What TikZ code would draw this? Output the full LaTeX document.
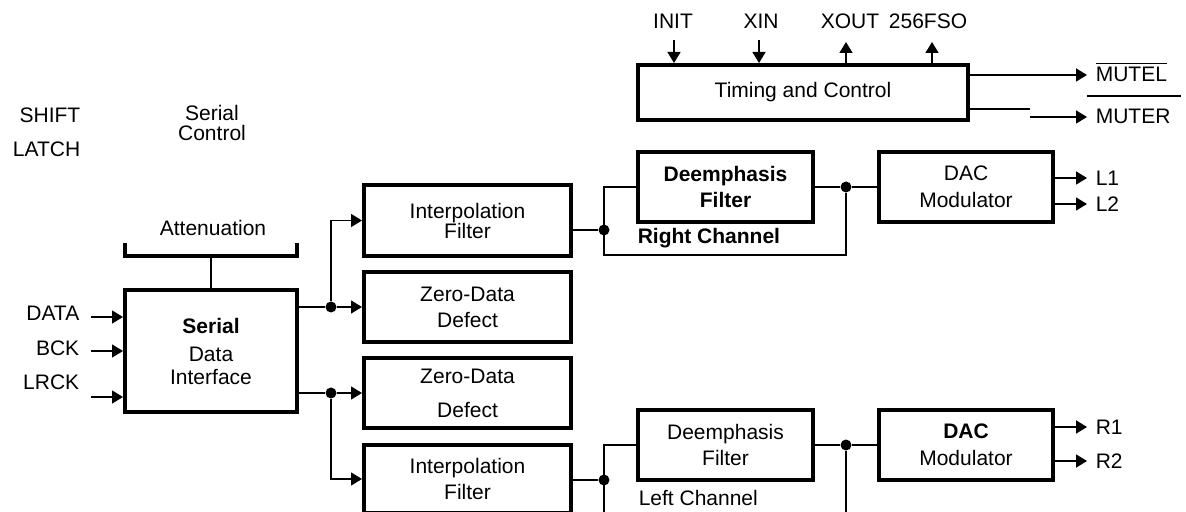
\documentclass[tikz,border=0pt]{standalone}
\usepackage{fontspec}
\setmainfont{Liberation Sans}
\usetikzlibrary{arrows.meta}

\begin{document}
\begin{tikzpicture}[x=0.5pt, y=-0.5pt, >={Triangle[length=5.5pt, width=6.5pt]},
    font=\fontsize{10.5}{13}\selectfont, line width=0.75pt,
    blk/.style={draw, line width=2pt, align=center, inner sep=0pt},
    dot/.style={circle, fill, inner sep=0pt, minimum size=5.5pt},
    lbl/.style={inner sep=0pt, align=center}]
    % Frame (pixel units, y downwards)
    \useasboundingbox (0,0) rectangle (1186,512);

    % 1. Blocks
    \node[blk, minimum width=165pt, minimum height=27.5pt] (tim) at (803,92.5) {Timing and Control};
    \node[blk, minimum width=86pt, minimum height=61pt] (ser) at (211,351)
        {\textbf{Serial}\\[1pt]Data\\[-1.5pt]Interface};
    \node[blk, minimum width=103.5pt, minimum height=35.5pt] (intA) at (467.5,220.5) {Interpolation\\[-3pt]Filter};
    \node[blk, minimum width=103.5pt, minimum height=35pt] (zdA) at (467.5,307) {Zero-Data\\Defect};
    \node[blk, minimum width=103.5pt, minimum height=35pt] (zdB) at (467.5,393) {Zero-Data\\[4pt]Defect};
    \node[blk, minimum width=103.5pt, minimum height=34pt] (intB) at (467.5,479) {Interpolation\\Filter};
    \node[blk, minimum width=87.5pt, minimum height=35pt, font=\fontsize{10.5}{13}\selectfont\bfseries] (deA) at (725.5,187) {Deemphasis\\Filter};
    \node[blk, minimum width=87pt, minimum height=35pt] (dacA) at (966,187) {DAC\\[0.5pt]Modulator};
    \node[blk, minimum width=87.5pt, minimum height=35pt] (deB) at (725.5,445) {Deemphasis\\Filter};
    \node[blk, minimum width=87pt, minimum height=35pt] (dacB) at (966,445) {\textbf{DAC}\\[0.5pt]Modulator};

    % 2. Labels
    \node[lbl] (lInit) at (673,21) {INIT};
    \node[lbl] (lXin) at (761,21) {XIN};
    \node[lbl] (lXout) at (850,21) {XOUT};
    \node[lbl] (lFso) at (928,21) {256FSO};
    \node[lbl, anchor=west, inner xsep=4pt] (lMutel) at (1087,72) {$\overline{\mbox{MUTEL}}$};
    \node[lbl, anchor=west, inner xsep=4pt] (lMuter) at (1087,116) {MUTER};
    \node[lbl, anchor=east] (lShift) at (81,115) {SHIFT};
    \node[lbl, anchor=east] (lLatch) at (81,149) {LATCH};
    \node[lbl] (lSerCtl) at (212,123) {Serial\\[-3pt]Control};
    \node[lbl] (lAtt) at (213,228) {Attenuation};
    \node[lbl, anchor=east] (lData) at (80,313) {DATA};
    \node[lbl, anchor=east] (lBck) at (80,348) {BCK};
    \node[lbl, anchor=east] (lLrck) at (80,382) {LRCK};
    \node[lbl, anchor=west, font=\fontsize{10.5}{13}\selectfont\bfseries] (lRch) at (637,238) {Right Channel};
    \node[lbl, anchor=west] (lLch) at (638,498) {Left Channel};
    \node[lbl, anchor=west, inner xsep=4pt] (lL1) at (1087,178) {L1};
    \node[lbl, anchor=west, inner xsep=4pt] (lL2) at (1087,204) {L2};
    \node[lbl, anchor=west, inner xsep=4pt] (lR1) at (1087,427) {R1};
    \node[lbl, anchor=west, inner xsep=4pt] (lR2) at (1087,461) {R2};

    % 3. Coordinates
    \coordinate (initIn) at (674,40);
    \coordinate (xinIn) at (759,40);
    \coordinate (xoutOut) at (846,42);
    \coordinate (fsoOut) at (932,42);
    \coordinate (muterJog) at (1030,109);
    \coordinate (dIn) at (91,317);
    \coordinate (bIn) at (91,351);
    \coordinate (lIn) at (91,397);
    \coordinate (brL) at (125,243);
    \coordinate (brR) at (297,243);
    \coordinate (brM) at (211,256);
    \coordinate (jA) at (604,230);
    \coordinate (jB) at (604,480);
    \coordinate (bypA) at (604,255);
    \coordinate (bypB) at (604,512);
    \coordinate (tapB) at (846,512);

    % 4. Junction dots
    \node[dot] (sA) at (331,307) {};
    \node[dot] (sB) at (331,393) {};
    \node[dot] (rA) at (jA) {};
    \node[dot] (rB) at (jB) {};
    \node[dot] (mA) at (846,187) {};
    \node[dot] (mB) at (846,445) {};

    % 5. Timing and Control pins
    \draw[->] (initIn) -- (initIn |- tim.north);
    \draw[->] (xinIn) -- (xinIn |- tim.north);
    \draw[->] (xoutOut |- tim.north) -- (xoutOut);
    \draw[->] (fsoOut |- tim.north) -- (fsoOut);
    \draw[->] (tim.east |- lMutel) ++(0,3) -- (lMutel.west |- 0,75);
    \draw (tim.east |- muterJog) -- (muterJog);
    \draw[->] (muterJog) ++(0,8) -- (lMuter.west |- 0,117);
    \draw ([yshift=6pt]lMuter.north west) -- ([xshift=1pt, yshift=6pt]lMuter.north east);

    % 6. Serial interface
    \draw[->] (dIn) -- (dIn -| ser.west);
    \draw[->] (bIn) -- (bIn -| ser.west);
    \draw[->] (lIn) -- (lIn -| ser.west);
    \draw[line width=2pt] (brL) |- (brM) -| (brR);
    \draw (brM) -- (brM |- ser.north);
    \draw (ser.east |- sA) -- (sA);
    \draw (ser.east |- sB) -- (sB);
    \draw[->] (sA) -- (zdA.west);
    \draw[->] (sB) -- (zdB.west);
    \draw[->] (sA) |- (intA.west);
    \draw[->] (sB) |- (intB.west);

    % 7. Right channel path
    \draw (intA.east |- rA) -- (rA);
    \draw (deA.west) -| (bypA) -| (mA);
    \draw (deA.east) -- (mA) -- (dacA.west);
    \draw[->] (dacA.east |- lL1) -- (lL1.west);
    \draw[->] (dacA.east |- lL2) -- (lL2.west);

    % 8. Left channel path
    \draw (intB.east |- rB) -- (rB);
    \draw (deB.west) -| (bypB);
    \draw (deB.east) -- (mB) -- (dacB.west);
    \draw (mB) -- (tapB);
    \draw[->] (dacB.east |- lR1) -- (lR1.west);
    \draw[->] (dacB.east |- lR2) -- (lR2.west);
\end{tikzpicture}
\end{document}
